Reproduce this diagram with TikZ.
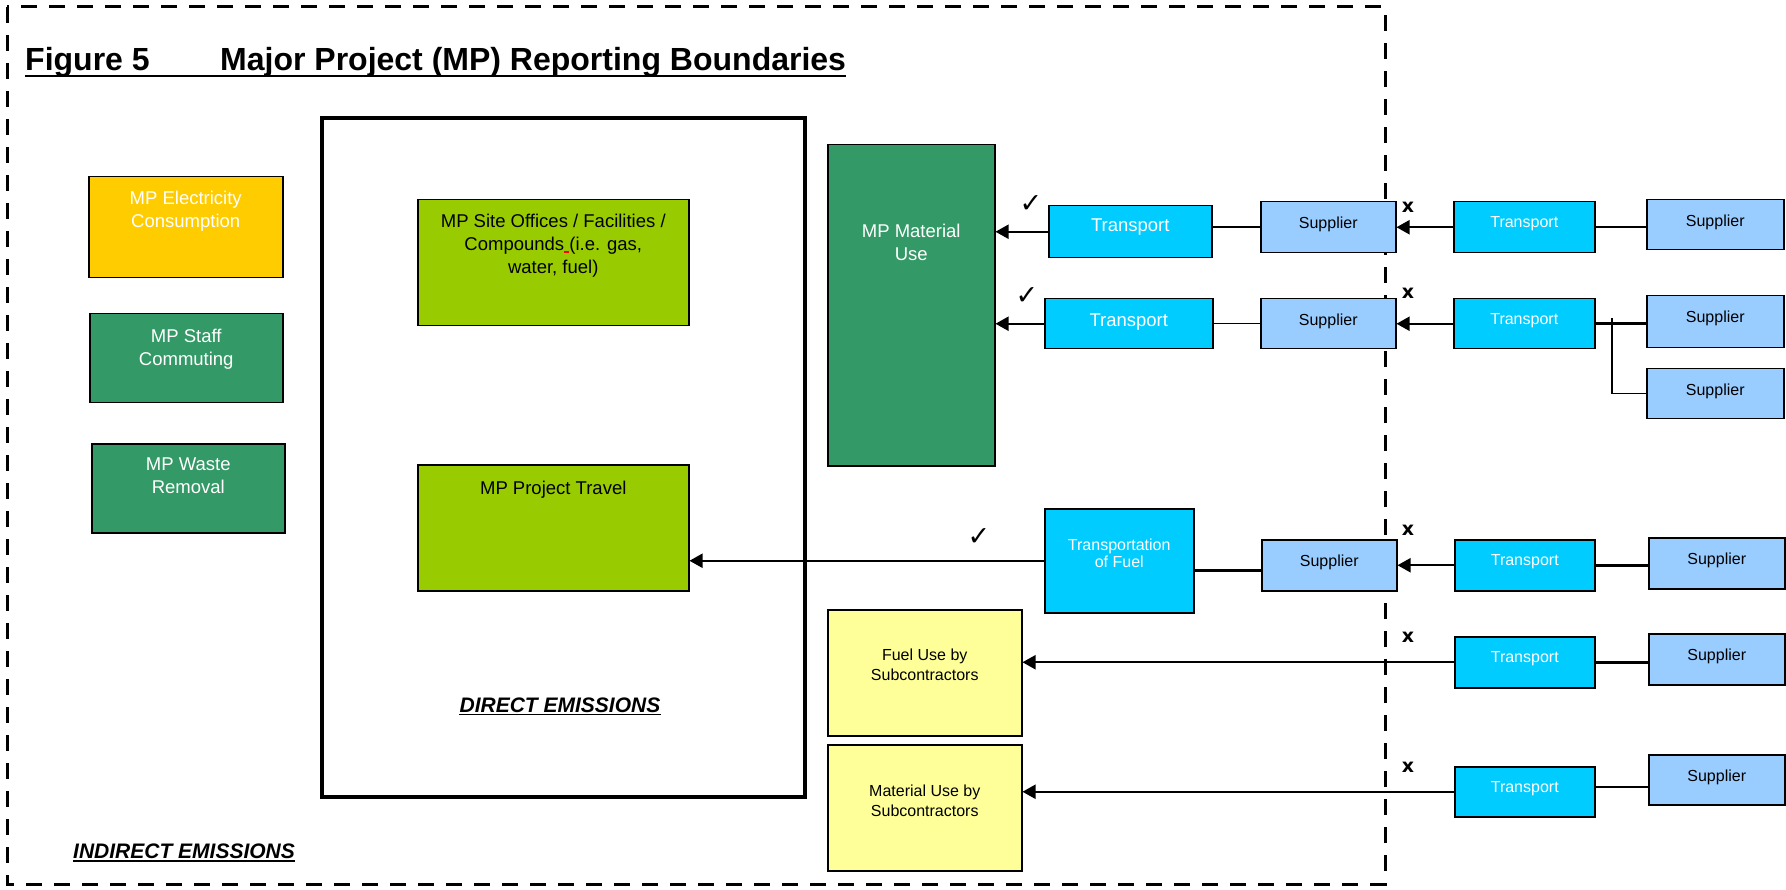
\documentclass[tikz,border=0pt]{standalone}
\usepackage{fontspec}
\setmainfont{Liberation Sans}
\newfontfamily\dejavu{DejaVu Sans}
\usetikzlibrary{arrows.meta}
\definecolor{cElec}{HTML}{FFCC00}
\definecolor{cDark}{HTML}{339966}
\definecolor{cLime}{HTML}{99CC00}
\definecolor{cTrans}{HTML}{00CCFF}
\definecolor{cSupp}{HTML}{99CCFF}
\definecolor{cSub}{HTML}{FFFF99}
\newcommand\fsz[2]{\fontsize{#1pt}{#2pt}\selectfont}
\newcommand\btxt[4]{\parbox[c][#2pt][t]{#1pt}{\centering\vspace*{#3pt}#4\par}}
\begin{document}
\begin{tikzpicture}[x=1pt,y=-1pt,
 box/.style={draw, line width=1.5pt, inner sep=0pt, anchor=north west},
 big/.style={font={\fsz{18.5}{23}}},
 small/.style={font={\fsz{16}{19}}},
 arr/.style={line width=2pt, -{Triangle[length=13pt,width=14pt]}},
 thinl/.style={line width=1.5pt},
 thickl/.style={line width=2.5pt},
 ckmark/.style={font={\dejavu\fsz{27}{27}}, inner sep=0pt},
 xmark/.style={font={\dejavu\bfseries\fsz{19}{19}}, inner sep=0pt},
 trans/.style={box, fill=cTrans, text=white},
 supp/.style={box, fill=cSupp, text=black, small},
 emis/.style={font={\bfseries\itshape\fsz{21}{24}}, inner sep=0pt},
 ttlfont/.style={font={\bfseries\fsz{32}{36}}, inner sep=0pt}]
\fill[white] (0,0) rectangle (1786,890);
\useasboundingbox (0,0) rectangle (1786,890);
% outer dashed boundary
\draw[line width=3pt, dash pattern=on 16pt off 12pt] (7,7) rectangle (1385,884);
% title
\node[ttlfont, anchor=base west] (fig) at (25,71) {Figure 5};
\node[ttlfont, anchor=base west] (ttl) at (220,71) {Major Project (MP) Reporting Boundaries};
\draw[line width=2.5pt] ([yshift=-5pt]fig.base west) -- ([yshift=-5pt]ttl.base east);
% direct emissions box
\node[box, line width=4pt, minimum width=483pt, minimum height=679pt] (direct) at (320,116) {};
% left boxes
\node[box, fill=cElec, text=white, big] (elec) at (88,176) {\btxt{194}{101}{14}{MP Electricity\\Consumption}};
\node[box, fill=cDark, text=white, big] (staff) at (89,313) {\btxt{193}{89}{15}{MP Staff\\Commuting}};
\node[box, fill=cDark, text=white, big] (waste) at (91,443) {\btxt{193}{89}{14}{MP Waste\\Removal}};
% inside direct
\node[box, fill=cLime, text=black, big] (site) at (417,199) {\btxt{271}{126}{14}{MP Site Offices / Facilities /\\Compounds\rlap{\color{red}\rule[-2.5pt]{5pt}{1.2pt}} (i.e. gas,\\water, fuel)}};
\node[box, fill=cLime, text=black, big] (travel) at (417,464) {\btxt{271}{126}{16}{MP Project Travel}};
\node[emis, anchor=base] (dlab) at (560,712) {DIRECT EMISSIONS};
\draw[line width=1.5pt] ([yshift=-2.5pt]dlab.base west) -- ([yshift=-2.5pt]dlab.base east);
\node[emis, anchor=base west] (ilab) at (73,858) {INDIRECT EMISSIONS};
\draw[line width=1.5pt] ([yshift=-3pt]ilab.base west) -- ([yshift=-3pt]ilab.base east);
% material use
\node[box, fill=cDark, text=white, big] (mat) at (827,144) {\btxt{167}{321}{79}{MP Material\\Use}};
% row 1
\node[trans, big] (tA1) at (1048,205) {\btxt{163}{52}{13}{Transport}};
\node[supp] (sB1) at (1260,201) {\btxt{135}{51}{15}{Supplier}};
\node[trans, small] (tC1) at (1453,201) {\btxt{141}{51}{15}{Transport}};
\node[supp] (sD1) at (1646,199) {\btxt{137}{50}{15}{Supplier}};
% row 2
\node[trans, big] (tA2) at (1044,298) {\btxt{168}{50}{15}{Transport}};
\node[supp] (sB2) at (1260,298) {\btxt{135}{50}{15}{Supplier}};
\node[trans, small] (tC2) at (1453,298) {\btxt{141}{50}{15}{Transport}};
\node[supp] (sD2a) at (1646,295) {\btxt{137}{52}{15}{Supplier}};
\node[supp] (sD2b) at (1646,368) {\btxt{137}{50}{15}{Supplier}};
% row 3
\node[trans, font={\fsz{16}{17}}] (tof) at (1044,508) {\btxt{149}{104}{30}{Transportation\\of Fuel}};
\node[supp] (sB3) at (1261,539) {\btxt{135}{51}{15}{Supplier}};
\node[trans, small] (tC3) at (1454,539) {\btxt{140}{51}{15}{Transport}};
\node[supp] (sD3) at (1648,537) {\btxt{136}{51}{15}{Supplier}};
% row 4
\node[box, fill=cSub, text=black, font={\fsz{16}{20}}] (fuel) at (827,609) {\btxt{194}{126}{39}{Fuel Use by\\Subcontractors}};
\node[trans, small] (tC4) at (1454,636) {\btxt{140}{51}{15}{Transport}};
\node[supp] (sD4) at (1648,633) {\btxt{136}{51}{15}{Supplier}};
% row 5
\node[box, fill=cSub, text=black, font={\fsz{16}{20}}] (matsub) at (827,744) {\btxt{194}{126}{40}{Material Use by\\Subcontractors}};
\node[trans, small] (tC5) at (1454,766) {\btxt{140}{50}{15}{Transport}};
\node[supp] (sD5) at (1648,754) {\btxt{136}{50}{15}{Supplier}};
% connectors row 1
\draw[arr] (tA1.west) -- (tA1.west -| mat.east);
\draw[thinl] (sB1.west -| tA1.east) -- (sB1.west);
\draw[arr] (tC1.west) -- (sB1.east);
\draw[thickl] (tC1.east) -- (tC1.east -| sD1.west);
% row 2
\draw[arr] (tA2.west) -- (tA2.west -| mat.east);
\draw[thinl] (sB2.west -| tA2.east) -- (sB2.west);
\draw[arr] (tC2.west) -- (sB2.east);
\draw[thickl] (tC2.east) -- (tC2.east -| sD2a.west);
\coordinate (br) at (1612,318);
\draw[thinl] (br) |- (sD2b.west);
% row 3
\draw[arr] (tof.west) -- (tof.west -| travel.east);
\draw[thickl] ([yshift=-5pt]sB3.west -| tof.east) -- ([yshift=-5pt]sB3.west);
\draw[arr] (tC3.west) -- (sB3.east);
\draw[thickl] (tC3.east) -- (tC3.east -| sD3.west);
% row 4
\draw[arr] (tC4.west) -- (tC4.west -| fuel.east);
\draw[thickl] (tC4.east) -- (tC4.east -| sD4.west);
% row 5
\draw[arr] (tC5.west) -- (tC5.west -| matsub.east);
\draw[thickl] ([yshift=5pt]tC5.east) -- ([yshift=5pt]tC5.east -| sD5.west);
% marks
\node[ckmark] (ck1) at (1031,204) {✓};
\node[ckmark] (ck2) at (1027,296) {✓};
\node[ckmark] (ck3) at (979,537) {✓};
\node[xmark] (x1) at (1408,207) {x};
\node[xmark] (x2) at (1408,293) {x};
\node[xmark] (x3) at (1408,530) {x};
\node[xmark] (x4) at (1408,637) {x};
\node[xmark] (x5) at (1408,767) {x};
\end{tikzpicture}
\end{document}
